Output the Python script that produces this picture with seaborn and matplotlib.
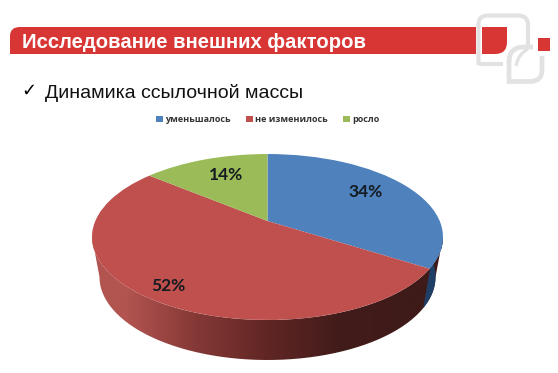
import numpy as np
import matplotlib
matplotlib.use('Agg')
import matplotlib.pyplot as plt
import seaborn as sns
from matplotlib.patches import PathPatch, Rectangle
from matplotlib.path import Path
from matplotlib.transforms import Transform

# Data
categories = ['уменьшалось', 'не изменилось', 'росло']
shares = [34, 52, 14]
colors = ['#4f81bd', '#bf504e', '#9bbb59']
title_text = 'Исследование внешних факторов'
subtitle_text = 'Динамика ссылочной массы'

BAR_RED = '#d83535'
LOGO_GRAY = '#e2e2e2'


# Perspective view of the unit circle, result is in image pixels
class PieView(Transform):
    input_dims = 2
    output_dims = 2

    def transform_non_affine(self, xy):
        xy = np.asarray(xy, dtype=float)
        w = 1 + 0.1928 * xy[:, 1]
        return np.column_stack([267.5 + 172.2 * xy[:, 0] / w, 221 - 79.9 * xy[:, 1] / w])

    def transform_path_non_affine(self, path):
        return Path(self.transform_non_affine(path.vertices), path.codes)


# Small helper for outlines: (x, y) is a straight line, (cx, cy, x, y) a curve
def outline(points):
    verts, codes = [], []
    for i, p in enumerate(points):
        if len(p) == 4:
            verts += [p[:2], p[2:]]
            codes += [Path.CURVE3, Path.CURVE3]
        else:
            verts.append(p)
            codes.append(Path.MOVETO if i == 0 else Path.LINETO)
    return Path(verts, codes)


sns.set_theme(style='white')
plt.rcParams['font.family'] = ['Liberation Sans', 'DejaVu Sans']

fig = plt.figure(figsize=(5.58, 3.73), dpi=100)
ax = fig.add_axes([0, 0, 1, 1])

wedges, _, pct_texts = ax.pie(shares, colors=colors, startangle=90, counterclock=False,
                              autopct='%d%%', pctdistance=0.74, normalize=True)
ax.set_aspect('auto')
ax.set_xlim(0, 558)
ax.set_ylim(373, 0)
ax.axis('off')

view = PieView() + ax.transData
for w in wedges:
    w.set_transform(view)
    w.set_zorder(5)
    w.set_linewidth(0)

# Percent labels go through the same view, with a small nudge each
for t, k, dx, dy in zip(pct_texts, [1.0, 1.14, 0.97], [-0.035, 0, 0.035], [0.03, -0.02, 0]):
    x, y = t.get_position()
    t.set_position((x * k + dx, y * k + dy))
    t.set_transform(view)
    t.set_zorder(6)
    t.set_fontfamily('Lato')
    t.set_fontweight('bold')
    t.set_fontsize(12.5)
    t.set_color('#141a20')


# Side of the pie: top rim down to a slightly smaller lower rim
def rim(cy, rx, ry, a, b):
    t = np.radians(np.linspace(a, b, 120))
    return np.column_stack([267.5 + rx * np.cos(t), cy + ry * np.sin(t)])


top_rim = rim(237, 175.5, 83, 0, 180)
low_rim = rim(277, 168, 83, 180, 0)
side = PathPatch(Path(np.vstack([top_rim, low_rim, top_rim[:1]])), fc='none', lw=0)
ax.add_patch(side)
side_colors = np.array([[178, 84, 80], [132, 56, 54], [96, 38, 36], [66, 28, 26], [62, 26, 24]]) / 255
grad = side_colors[None, :, :]
im = ax.imshow(grad, extent=(92, 444, 373, 150), interpolation='bilinear', aspect='auto', zorder=2)
im.set_clip_path(side)
ax.set_xlim(0, 558)
ax.set_ylim(373, 0)

# Blue part of the side on the right
blue_side = np.vstack([rim(237, 175.5, 83, 0, 22), rim(277, 168, 83, 22, -15)])
ax.fill(blue_side[:, 0], blue_side[:, 1], color='#1f3f66', lw=0, zorder=3)

# Header bar, only the top left corner is round
bar = outline([(10, 54), (10, 36), (10, 27, 20, 27), (476, 27), (476, 54), (10, 54)])
ax.add_patch(PathPatch(bar, fc=BAR_RED, ec='none', zorder=1))
ax.text(22, 42, title_text, color='white', fontsize=14.6, fontweight='bold', va='center', ha='left')

# Logo
gray_one = outline([(478.5, 65), (478.5, 24), (478.5, 15.5, 488, 15.5), (518, 15.5),
                    (528, 15.5, 528, 25), (528, 45)])
gray_one_end = outline([(478.5, 64), (503, 64)])
gray_two = outline([(509, 62), (509, 47, 524, 47), (533, 47)])
gray_three = outline([(509, 60), (509, 81.5), (530, 81.5), (542, 81.5, 542, 70), (542, 56)])
gray_four = outline([(516, 66), (518, 54, 528, 49)])
for shape, width in [(gray_one, 3), (gray_one_end, 3), (gray_two, 3.4), (gray_three, 3.4), (gray_four, 2.4)]:
    ax.add_patch(PathPatch(shape, fc='none', ec=LOGO_GRAY, lw=width, zorder=0))

piece = outline([(482, 27), (507, 27), (507, 42), (507, 54, 495, 54), (482, 54), (482, 27)])
ax.add_patch(PathPatch(piece, fc=BAR_RED, ec='none', zorder=1))
ax.add_patch(Rectangle((538, 38), 12, 13, fc=BAR_RED, ec='none', zorder=1))

# Subtitle with tick mark
ax.text(21, 91, '✓', color='black', fontsize=13, va='center', ha='left', family='DejaVu Sans', fontweight='bold')
ax.text(45, 92.5, subtitle_text, color='#111111', fontsize=14, va='center', ha='left')

ax.legend(wedges, categories, ncols=3, frameon=False, loc='center', bbox_to_anchor=(268, 120),
          bbox_transform=ax.transData, handlelength=0.7, handleheight=0.7,
          handletextpad=0.3, columnspacing=1.7,
          prop={'family': ['Open Sans', 'DejaVu Sans'], 'weight': 'bold', 'size': 6.5},
          labelcolor='#333333')

fig.savefig('out.png', dpi=100)
